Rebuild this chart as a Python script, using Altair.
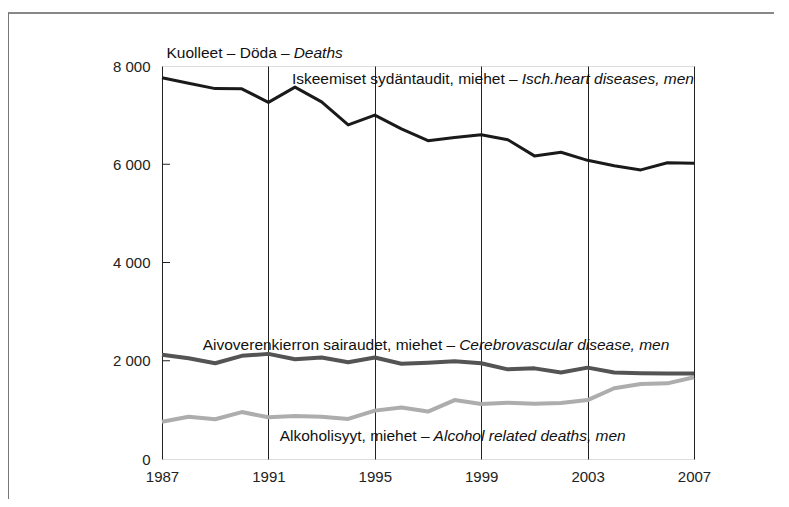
import altair as alt
import pandas as pd

# ---- data ----
years = list(range(1987, 2008))
heart = [7760, 7650, 7540, 7535, 7260, 7570, 7270, 6800, 7000, 6720, 6480,
         6545, 6600, 6500, 6170, 6245, 6080, 5970, 5885, 6030, 6020]
cerebro = [2120, 2050, 1950, 2100, 2140, 2030, 2065, 1970, 2065, 1940, 1960,
           1990, 1950, 1825, 1845, 1760, 1860, 1760, 1745, 1740, 1740]
alcohol = [760, 860, 810, 955, 850, 875, 860, 815, 985, 1050, 965,
           1200, 1120, 1145, 1125, 1140, 1200, 1440, 1525, 1540, 1665]

x_ticks = [1987, 1991, 1995, 1999, 2003, 2007]
y_ticks = [0, 2000, 4000, 6000, 8000]
inner_ticks = [2000, 4000, 6000]

# label texts (regular part, italic part) and their anchor in data units
label_plain = ["Kuolleet – Döda –",
               "Iskeemiset sydäntaudit, miehet –",
               "Aivoverenkierron sairaudet, miehet –",
               "Alkoholisyyt, miehet –"]
label_italic = ["Deaths",
                "Isch.heart diseases, men",
                "Cerebrovascular disease, men",
                "Alcohol related deaths, men"]
label_split_x = [1991.80, 2000.37, 1998.02, 1997.06]
label_y = [8158, 7643, 2219, 373]

FONT = "Liberation Sans"
FS = 15.5
TFS = 15

df = pd.DataFrame({"year": years, "heart": heart, "cerebro": cerebro, "alcohol": alcohol})
lab = pd.DataFrame({"x": label_split_x, "y": label_y,
                    "plain": label_plain, "ital": label_italic})
tk = pd.DataFrame({"v": inner_ticks})

xscale = alt.Scale(domain=[1987, 2007], nice=False, zero=False)
yscale = alt.Scale(domain=[0, 8000], nice=False)

xaxis = alt.Axis(values=x_ticks, format="d", grid=True, gridColor="#222",
                 gridWidth=1, ticks=False, domain=False, labelPadding=10,
                 labelFont=FONT, labelFontSize=TFS, labelColor="#222",
                 labelFlush=False, title=None)
yaxis = alt.Axis(values=y_ticks, grid=False, ticks=False, domain=False,
                 labelPadding=12, labelFont=FONT, labelFontSize=TFS,
                 labelColor="#222", title=None,
                 labelExpr="replace(format(datum.value, ',d'), ',', ' ')")

base = alt.Chart(df)


def line(field, color, width):
    return base.mark_line(color=color, strokeWidth=width, strokeJoin="round").encode(
        x=alt.X("year:Q", scale=xscale, axis=xaxis),
        y=alt.Y(f"{field}:Q", scale=yscale, axis=yaxis),
    )


l_alc = line("alcohol", "#adadad", 4)
l_cer = line("cerebro", "#545454", 4)
l_heart = line("heart", "#1a1a1a", 3)

ticks_in = alt.Chart(tk).mark_rule(color="#222", strokeWidth=1).encode(
    x=alt.value(0), x2=alt.value(8), y=alt.Y("v:Q", scale=yscale))

labbase = alt.Chart(lab)
t_plain = labbase.mark_text(align="right", baseline="alphabetic", font=FONT,
                            fontSize=FS, color="#111").encode(
    x=alt.X("x:Q", scale=xscale), y=alt.Y("y:Q", scale=yscale), text="plain:N")
t_ital = labbase.mark_text(align="left", baseline="alphabetic", font=FONT,
                           fontSize=FS, fontStyle="italic", dx=4, color="#111").encode(
    x=alt.X("x:Q", scale=xscale), y=alt.Y("y:Q", scale=yscale), text="ital:N")

# outer page frame (top and left edges)
frame_top = alt.Chart(tk).mark_rule(color="#777", strokeWidth=1).encode(
    x=alt.value(-154), x2=alt.value(620), y=alt.value(-53))
frame_left = alt.Chart(tk).mark_rule(color="#777", strokeWidth=1).encode(
    x=alt.value(-153.5), y=alt.value(-53), y2=alt.value(440))

chart = alt.layer(frame_top, frame_left, ticks_in, l_alc, l_cer, l_heart,
                  t_plain, t_ital).properties(
    width=532, height=393,
    padding={"left": 154, "top": 58, "right": 80, "bottom": 40},
    autosize=alt.AutoSizeParams(type="none"),
).configure_view(stroke="#222", strokeWidth=1).configure(background="white")

chart.save("out.html", embed_options={"renderer": "svg", "actions": False})
